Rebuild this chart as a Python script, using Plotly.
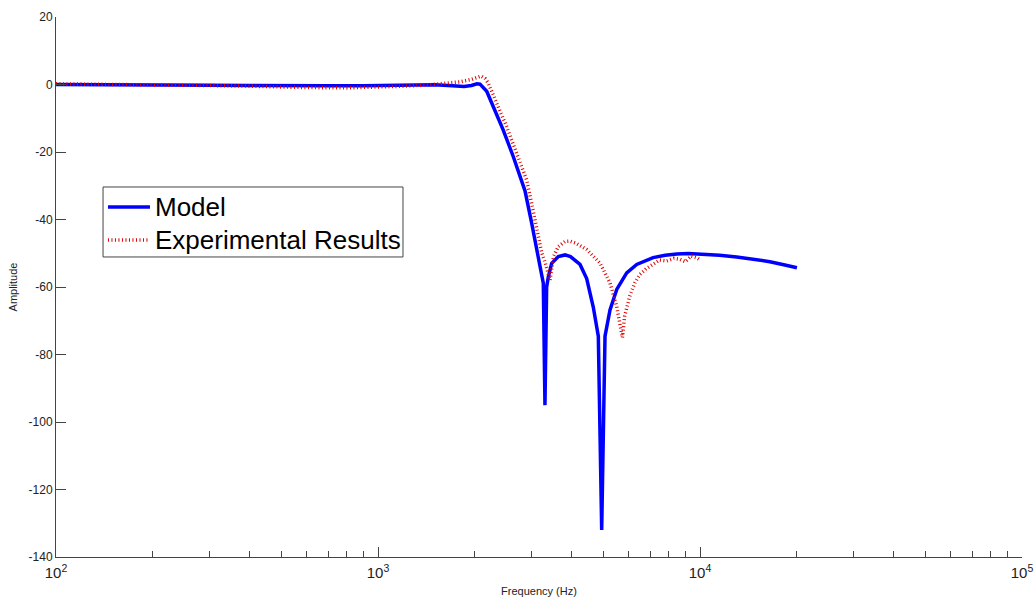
import plotly.graph_objects as go

# Model frequency response (Hz, dB)
model_freq = [100, 150, 200, 300, 400, 500, 700, 900, 1100, 1300, 1500, 1700, 1850, 1950,
              2030, 2074, 2120, 2176, 2281, 2449, 2632, 2793, 2861, 3001, 3111, 3184, 3261,
              3300, 3340, 3381, 3462, 3631, 3809, 3960, 4120, 4240, 4447, 4663, 4833, 4951,
              5070, 5254, 5513, 5921, 6360, 7148, 7800, 8472, 9200, 10000,
              11500, 13000, 14700, 16480, 18200, 20000]
model_amp = [0.0, 0.0, -0.1, -0.2, -0.3, -0.4, -0.4, -0.4, -0.3, -0.1, -0.1, -0.4, -0.6, -0.3,
             0.2, 0.1, -0.8, -2.0, -6.6, -13.5, -21.4, -28.3, -31.5, -41.1, -49.0, -54.9, -58.9,
             -95.0, -60.0, -57.0, -53.0, -51.0, -50.5, -51.0, -52.5, -53.3, -57.5, -66.0, -74.6, -132.0,
             -74.6, -66.8, -60.7, -55.8, -53.3, -51.3, -50.6, -50.2, -50.1, -50.2,
             -50.6, -51.1, -51.8, -52.5, -53.4, -54.3]

# Measured response (Hz, dB)
exp_freq = [100, 150, 200, 300, 400, 500, 600, 800, 1000, 1200, 1400, 1600, 1800, 1950, 2030,
            2090, 2150, 2201, 2337, 2510, 2696, 2895, 3001, 3111, 3226, 3300, 3381, 3420, 3508,
            3631, 3809, 3948, 4120, 4447, 4891, 5254, 5513, 5701, 5742, 5835, 6053, 6272, 6500,
            6800, 7161, 7500, 7883, 8300, 8670, 9000, 9400, 9772, 10000]
exp_amp = [0.2, 0.1, 0.0, -0.3, -0.5, -0.8, -0.9, -1.0, -0.8, -0.5, -0.2, 0.3, 0.8, 1.5, 2.2,
           2.5, 1.8, 0.4, -5.6, -12.5, -20.4, -28.3, -35.3, -43.1, -50.0, -52.5, -56.0, -58.0, -51.0,
           -48.0, -46.5, -46.4, -47.0, -48.9, -52.9, -58.8, -65.8, -72.8, -75.0, -68.6, -62.7, -58.8, -56.3,
           -54.6, -53.3, -52.0, -52.3, -51.5, -51.8, -52.5, -50.8, -51.3, -52.0]

y_ticks = [20, 0, -20, -40, -60, -80, -100, -120, -140]
y_ticktext = [str(v) for v in y_ticks]  # plain hyphen minus signs

series_names = ["Model", "Experimental Results"]

FONT = "Arial, 'Liberation Sans', sans-serif"
AXIS_COLOR = "#444444"
MODEL_LINE = dict(color="#0000ff", width=3.5)
EXP_LINE = dict(color="#e00000", width=3.5, dash="1px,2.5px")

fig = go.Figure()
fig.add_trace(go.Scatter(x=model_freq, y=model_amp, mode="lines",
                         name=series_names[0], line=MODEL_LINE))
fig.add_trace(go.Scatter(x=exp_freq, y=exp_amp, mode="lines",
                         name=series_names[1], line=EXP_LINE))

# Compact boxed legend (paper coordinates), drawn inside the plot area
box = dict(x0=0.0487, x1=0.3592, y0=0.5556, y1=0.6852)
rows_y = [0.6482, 0.5870]
sample_x = (0.0538, 0.0973)
text_x = 0.1004
fig.add_shape(type="rect", xref="paper", yref="paper", **box,
              line=dict(color=AXIS_COLOR, width=1), fillcolor="white", layer="above")
for name, style, ry in zip(series_names, [MODEL_LINE, EXP_LINE], rows_y):
    fig.add_shape(type="line", xref="paper", yref="paper",
                  x0=sample_x[0], x1=sample_x[1], y0=ry, y1=ry,
                  line=style, layer="above")
    fig.add_annotation(text=name, xref="paper", yref="paper", x=text_x, y=ry,
                       xanchor="left", yanchor="middle", showarrow=False,
                       font=dict(family=FONT, size=26, color="black"))

fig.update_layout(
    width=1034, height=597,
    margin=dict(l=56, r=12, t=17, b=40),
    paper_bgcolor="white", plot_bgcolor="white",
    font=dict(family=FONT, size=12, color="#222222"),
    showlegend=False,
    xaxis=dict(
        type="log", range=[2, 5], dtick=1, exponentformat="power",
        automargin=False,
        showgrid=False, zeroline=False,
        showline=True, linecolor=AXIS_COLOR, linewidth=1, mirror=False,
        ticks="inside", ticklen=10, tickcolor=AXIS_COLOR, tickwidth=1,
        ticklabelstandoff=3,
        minor=dict(ticks="inside", ticklen=6, tickcolor=AXIS_COLOR, tickwidth=1,
                   dtick="D1", showgrid=False),
        title=dict(text="Frequency (Hz)", font=dict(size=11), standoff=6),
        tickfont=dict(size=12),
    ),
    yaxis=dict(
        range=[-140, 20], tickvals=y_ticks, ticktext=y_ticktext,
        automargin=False,
        showgrid=False, zeroline=False,
        showline=True, linecolor=AXIS_COLOR, linewidth=1, mirror=False,
        ticks="inside", ticklen=10, tickcolor=AXIS_COLOR, tickwidth=1,
        title=dict(text="Amplitude", font=dict(size=11), standoff=8),
        tickfont=dict(size=12),
    ),
)

fig.write_html("out.html")
